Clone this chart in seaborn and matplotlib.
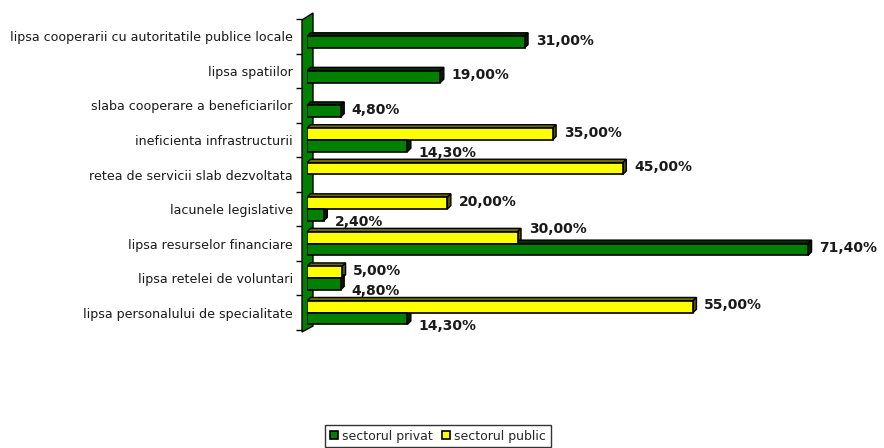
import numpy as np
import pandas as pd
import matplotlib
matplotlib.use("Agg")
import matplotlib.pyplot as plt
from matplotlib.patches import Polygon
import seaborn as sns

# Obstacles reported by each sector (share of respondents, %)
categories = [
    "lipsa cooperarii cu autoritatile publice locale",
    "lipsa spatiilor",
    "slaba cooperare a beneficiarilor",
    "ineficienta infrastructurii",
    "retea de servicii slab dezvoltata",
    "lacunele legislative",
    "lipsa resurselor financiare",
    "lipsa retelei de voluntari",
    "lipsa personalului de specialitate",
]
privat = [31.0, 19.0, 4.8, 14.3, np.nan, 2.4, 71.4, 4.8, 14.3]
public = [np.nan, np.nan, np.nan, 35.0, 45.0, 20.0, 30.0, 5.0, 55.0]
series_names = ["sectorul privat", "sectorul public"]

df = pd.DataFrame({
    "categorie": categories * 2,
    "sector": [series_names[0]] * len(categories) + [series_names[1]] * len(categories),
    "valoare": privat + public,
}).dropna()

sns.set_style("white")
plt.rcParams["font.family"] = ["DejaVu Sans"]

W, H = 884, 448
fig = plt.figure(figsize=(W / 100, H / 100), dpi=100)
x0, x1, ytop, ybot = 307, 868.4, 19, 330
ax = fig.add_axes([x0 / W, 1 - ybot / H, (x1 - x0) / W, (ybot - ytop) / H])
ax.patch.set_visible(False)

colors = {"sectorul privat": "#008000", "sectorul public": "#FFFF00"}
shade_top = {"sectorul privat": "#003000", "sectorul public": "#6b6b00"}
shade_side = {"sectorul privat": "#002200", "sectorul public": "#555500"}
hue_order = [series_names[1], series_names[0]]

sns.barplot(
    data=df, y="categorie", x="valoare", hue="sector",
    order=categories, hue_order=hue_order,
    palette=colors, orient="h", width=0.68, dodge=True,
    edgecolor="black", linewidth=1.2, saturation=1, ax=ax, zorder=3,
)
ax.set_xlim(0, 80)
ax.set_xlabel("")
ax.set_ylabel("")
ax.set_xticks([])

# category tick marks sit between the bands
ax.set_yticks(np.arange(-0.5, len(categories), 1), minor=True)
ax.tick_params(axis="y", which="major", length=0, pad=6.5, labelsize=9.1,
               labelcolor="#1a1a1a")
ax.tick_params(axis="y", which="minor", length=4, width=1, direction="out",
               color="black", left=True)
for s in ["top", "right", "bottom"]:
    ax.spines[s].set_visible(False)
ax.spines["left"].set_position(("outward", 3.6))
ax.spines["left"].set_visible(False)

# 3D-looking side wall of the category axis
def fpt(px, py):
    return (px / W, 1 - py / H)

wall = Polygon([fpt(302, 332), fpt(302, 20), fpt(313, 13), fpt(313, 326)],
               closed=True, transform=fig.transFigure, facecolor="#008000",
               edgecolor="black", linewidth=1, zorder=-1)
fig.patches.append(wall)

# depth of the bar faces, in data units
px_per_x = (x1 - x0) / 80.0
px_per_y = (ybot - ytop) / len(categories)
ddx, ddy = 3.5 / px_per_x, 3.5 / px_per_y

vals = {series_names[0]: privat, series_names[1]: public}
for name, container in zip(hue_order, ax.containers):
    for bar in container:
        v = bar.get_width()
        if np.isnan(v):
            continue
        yt = bar.get_y()
        yb = yt + bar.get_height()
        top = Polygon([(0, yt), (v, yt), (v + ddx, yt - ddy), (ddx, yt - ddy)],
                      closed=True, facecolor=shade_top[name], edgecolor="black",
                      linewidth=1, zorder=2.9)
        side = Polygon([(v, yt), (v + ddx, yt - ddy), (v + ddx, yb - ddy), (v, yb)],
                       closed=True, facecolor=shade_side[name], edgecolor="black",
                       linewidth=1, zorder=2.9)
        ax.add_patch(top)
        ax.add_patch(side)

# value labels; the shorter bar's label moves away from the longer neighbour
for name, container in zip(hue_order, ax.containers):
    other = series_names[0] if name == series_names[1] else series_names[1]
    is_public = name == series_names[1]
    for bar in container:
        v = bar.get_width()
        if np.isnan(v):
            continue
        yc = bar.get_y() + bar.get_height() / 2
        idx = int(round(yc))
        ov = vals[other][idx]
        longer_other = (not np.isnan(ov)) and ov > v
        if is_public:
            dy = 6 if longer_other else 1
        else:
            dy = -5 if longer_other else 1
        ax.annotate(f"{v:.2f}".replace(".", ",") + "%", xy=(v, yc),
                    xytext=(8, dy), textcoords="offset points",
                    ha="left", va="center", fontsize=10, fontweight="bold",
                    color="#1a1a1a", annotation_clip=False)

handles, labels = ax.get_legend_handles_labels()
ax.get_legend().remove()
order = [labels.index(n) for n in series_names]
leg = fig.legend([handles[i] for i in order], [labels[i] for i in order],
                 loc="center", bbox_to_anchor=(438 / W, 1 - 436 / H), ncol=2,
                 fontsize=9, frameon=True, fancybox=False, edgecolor="black",
                 handlelength=0.65, handleheight=0.65, handletextpad=0.35,
                 columnspacing=0.7, borderpad=0.35, borderaxespad=0)
leg.get_frame().set_linewidth(1)

fig.savefig("out.png", dpi=100)
